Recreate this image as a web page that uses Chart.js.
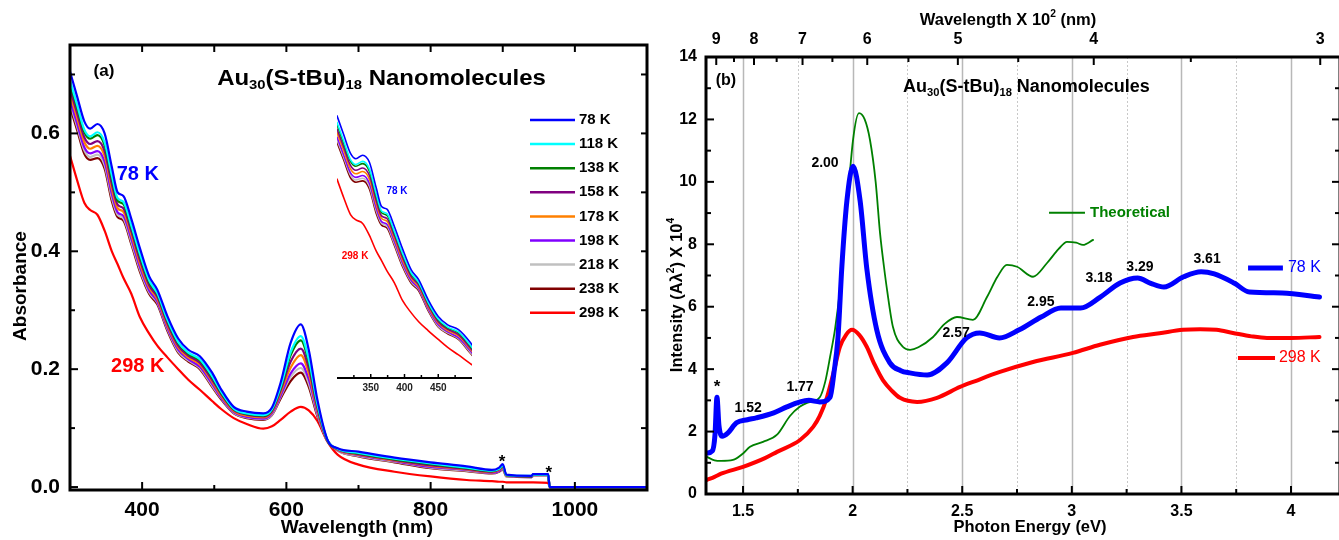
<!DOCTYPE html>
<html><head><meta charset="utf-8">
<script src="https://cdn.jsdelivr.net/npm/chart.js@4.4.1/dist/chart.umd.min.js"></script>
<style>
html,body{margin:0;padding:0;background:#fff;width:1339px;height:540px;overflow:hidden;position:relative}
canvas{position:absolute}
#ca{left:0;top:0}
#cb{left:660px;top:0}
#ci{left:330px;top:100px}
</style></head><body>
<canvas id="ca" width="660" height="540"></canvas>
<canvas id="cb" width="681" height="540"></canvas>
<canvas id="ci" width="160" height="300"></canvas>
<script>
// ================= DATA: panel (a) absorbance vs wavelength =================
const wavelengthA = [300,310,320,328,338,348,358,366,374,385,397,410,421,435,450,464,480,497,510,527,545,568,580,592,606,620,631,643,657,671,700,750,800,850,885,895,900,905,940,942,963,965,1000,1100];
const labelsA = ['78 K','118 K','138 K','158 K','178 K','198 K','218 K','238 K','298 K'];
const abs78K  = [.705,.662,.620,.608,.616,.600,.543,.500,.494,.455,.405,.357,.335,.290,.252,.233,.222,.194,.165,.136,.128,.125,.135,.177,.245,.276,.233,.148,.080,.066,.060,.050,.042,.035,.029,.033,.039,.021,.019,.022,.022,0,0,0];
const abs118K = [.690,.648,.606,.595,.602,.585,.529,.490,.484,.444,.395,.350,.329,.284,.246,.228,.217,.188,.161,.133,.125,.122,.132,.170,.229,.256,.217,.141,.080,.065,.058,.048,.040,.033,.028,.031,.037,.020,.019,.021,.021,0,0,0];
const abs138K = [.685,.643,.602,.591,.597,.580,.524,.486,.480,.441,.392,.347,.327,.282,.244,.226,.215,.186,.159,.132,.124,.121,.131,.168,.224,.249,.212,.139,.079,.065,.057,.047,.039,.032,.027,.031,.036,.020,.018,.021,.021,0,0,0];
const abs158K = [.675,.634,.593,.582,.587,.570,.514,.479,.473,.434,.385,.342,.323,.278,.240,.223,.211,.182,.157,.131,.123,.120,.129,.164,.213,.235,.202,.134,.079,.064,.056,.046,.037,.031,.026,.030,.035,.020,.018,.021,.021,0,0,0];
const abs178K = [.667,.626,.585,.574,.579,.562,.506,.473,.467,.428,.379,.338,.319,.274,.237,.220,.208,.179,.154,.129,.121,.118,.127,.160,.203,.224,.193,.130,.079,.063,.055,.045,.036,.030,.025,.029,.033,.019,.018,.020,.020,0,0,0];
const abs198K = [.657,.616,.576,.566,.570,.552,.497,.466,.460,.421,.373,.333,.315,.270,.233,.217,.204,.175,.151,.127,.119,.116,.125,.155,.193,.210,.183,.126,.078,.063,.054,.044,.034,.029,.024,.027,.032,.019,.017,.020,.020,0,0,0];
const abs218K = [.651,.611,.571,.560,.564,.546,.491,.462,.456,.416,.369,.330,.313,.268,.230,.215,.202,.172,.150,.126,.118,.115,.123,.153,.187,.202,.176,.123,.078,.062,.053,.043,.033,.028,.024,.027,.031,.018,.017,.019,.019,0,0,0];
const abs238K = [.645,.605,.565,.555,.558,.540,.485,.458,.452,.412,.365,.327,.310,.265,.228,.213,.200,.170,.148,.125,.117,.114,.122,.150,.180,.194,.170,.120,.078,.062,.052,.042,.032,.027,.023,.026,.030,.018,.017,.019,.019,0,0,0];
const abs298K = [.562,.520,.482,.470,.462,.435,.400,.378,.355,.328,.288,.260,.240,.220,.200,.182,.165,.146,.132,.117,.107,.099,.103,.114,.128,.136,.130,.112,.077,.055,.038,.026,.018,.012,.010,.009,.009,.008,.008,.008,.007,0,0,0];
const ticksAx = [400,600,800,1000];
const ticksAy = [0,0.2,0.4,0.6];
const ticksInset = [350,400,450];

// ================= DATA: panel (b) intensity vs photon energy =================
const energy78K = [1.335,1.36,1.372,1.381,1.39,1.405,1.43,1.47,1.52,1.56,1.64,1.70,1.76,1.80,1.85,1.897,1.915,1.933,1.951,1.974,2.002,2.034,2.065,2.11,2.17,2.22,2.26,2.34,2.43,2.52,2.58,2.67,2.76,2.86,2.95,3.04,3.13,3.22,3.30,3.36,3.42,3.51,3.59,3.65,3.74,3.81,3.96,4.13];
const intensity78K = [1.31,1.38,1.9,3.1,2.2,1.85,1.95,2.28,2.38,2.44,2.6,2.79,2.95,3.0,2.95,3.1,3.9,5.0,7.3,9.4,10.5,9.4,7.2,5.26,4.2,3.95,3.88,3.81,4.2,5.0,5.16,5.0,5.26,5.67,5.96,5.96,6.31,6.76,6.92,6.75,6.63,6.96,7.12,7.05,6.76,6.47,6.44,6.31];
const energy298K = [1.335,1.37,1.40,1.50,1.60,1.655,1.76,1.82,1.85,1.883,1.915,1.942,1.97,1.997,2.03,2.065,2.10,2.138,2.18,2.216,2.294,2.385,2.49,2.56,2.672,2.823,3.005,3.128,3.279,3.40,3.507,3.585,3.66,3.735,3.82,3.89,4.0,4.13];
const intensity298K = [0.45,0.55,0.65,0.87,1.15,1.35,1.73,2.15,2.5,3.1,3.95,4.71,5.1,5.26,5.1,4.71,4.15,3.65,3.3,3.08,2.95,3.08,3.43,3.62,3.91,4.23,4.52,4.78,5.03,5.15,5.26,5.28,5.26,5.16,5.05,5.0,5.0,5.03];
const energyTheory = [1.335,1.37,1.40,1.454,1.50,1.532,1.591,1.655,1.714,1.76,1.792,1.851,1.875,1.897,1.92,1.942,1.965,2.002,2.029,2.055,2.079,2.105,2.125,2.143,2.157,2.184,2.23,2.262,2.30,2.367,2.42,2.476,2.549,2.613,2.66,2.704,2.75,2.823,2.887,2.94,2.978,3.02,3.051,3.097];
const intensityTheory = [1.19,1.08,1.06,1.09,1.3,1.51,1.67,1.9,2.5,2.8,2.92,3.11,3.6,4.39,5.3,6.54,8.36,11.35,12.2,12.0,11.35,10.0,8.36,7.28,6.54,5.35,4.71,4.62,4.7,5.03,5.45,5.67,5.58,6.31,6.95,7.34,7.28,6.96,7.4,7.85,8.08,8.05,7.98,8.14];
const ticksBx = [1.5,2,2.5,3,3.5,4];
const minorBx = [1.75,2.25,2.75,3.25,3.75];
const ticksBy = [0,2,4,6,8,10,12,14];
const minorBy = [1,3,5,7,9,11,13];
const topWaveTicks = [9,8,7,6,5,4,3];        // wavelength x 10^2 nm
const topWaveMinor = [8.5,7.5,6.5,5.5,4.5,3.5];
const peakLabels = ['2.00','1.52','1.77','2.57','2.95','3.18','3.29','3.61'];
const peakLabelPos = [[1.874,10.61],[1.523,2.76],[1.760,3.43],[2.472,5.16],[2.859,6.15],[3.124,6.92],[3.311,7.28],[3.617,7.53]];

// ================= helpers =================
const FONT = '"Liberation Sans", Arial, Helvetica, sans-serif';
Chart.defaults.font.family = FONT;
const toE = nm100 => 1240 / (nm100 * 100);

function setFont(ctx, size, bold){ ctx.font = (bold ? 'bold ' : '') + size + 'px ' + FONT; }
function richDraw(ctx, parts, x, y, size, bold, color, align){
  const segs = parts.map(([t, m]) => {
    const s = m ? size * 0.62 : size;
    setFont(ctx, s, bold);
    return {t, m, s, w: ctx.measureText(t).width};
  });
  const total = segs.reduce((a, b) => a + b.w, 0);
  let cx = align === 'center' ? x - total / 2 : align === 'right' ? x - total : x;
  ctx.fillStyle = color; ctx.textAlign = 'left'; ctx.textBaseline = 'middle';
  for (const g of segs){
    setFont(ctx, g.s, bold);
    const dy = g.m === 1 ? size * 0.32 : g.m === 2 ? -size * 0.36 : 0;
    ctx.fillText(g.t, cx, y + dy);
    cx += g.w;
  }
}
const T = (t) => [[t, 0]];

const DECO = {
  ca: {
    frame: 3,
    ticks: [
      {side:'bottom', major:[400,600,800,1000], minor:[500,700,900], len:8, mlen:5},
      {side:'top', major:[400,500,600,700,800,900,1000], minor:[], len:7},
      {side:'left', major:[0,0.2,0.4,0.6], minor:[0.1,0.3,0.5,0.7], len:8, mlen:5},
      {side:'right', major:[0.1,0.2,0.3,0.4,0.5,0.6,0.7], minor:[], len:6}
    ],
    legend: {x:530, y:120, dy:24.1, len:45, gap:4, size:15},
    texts: [
      {parts:T('(a)'), x:347, y:0.705, size:17, bold:true},
      {parts:[['Au',0],['30',1],['(S-tBu)',0],['18',1],[' Nanomolecules',0]], x:504, y:0.693, size:22, bold:true, align:'left', sx:1.09},
      {parts:T('78 K'), x:394, y:0.531, size:20, bold:true, color:'#0000ff'},
      {parts:T('298 K'), x:394, y:0.204, size:20, bold:true, color:'#ff0000'},
      {parts:T('*'), x:899, y:0.051, size:17, bold:true, dy:5},
      {parts:T('*'), x:964, y:0.031, size:17, bold:true, dy:5},
      {parts:T('Wavelength (nm)'), px:true, x:357, y:528, size:19, bold:true},
      {parts:T('Absorbance'), px:true, x:21, y:286, size:19, bold:true, rot:-Math.PI/2}
    ]
  },
  ci: {
    baseLine: 2,
    ticks: [{side:'bottom', major:[350,400,450], minor:[325,375,425,475], len:4, mlen:3, w:1.5}],
    texts: [
      {parts:T('78 K'), x:388.9, y:0.535, size:10, bold:true, color:'#0000ff'},
      {parts:T('298 K'), x:326.7, y:0.388, size:10, bold:true, color:'#ff0000'}
    ]
  },
  cb: {
    frame: 3,
    vgrid: ticksBx.map(v => ({v, dotted:false})).concat(minorBx.map(v => ({v, dotted:true}))),
    ticks: [
      {side:'bottom', major:ticksBx, minor:minorBx, len:8, mlen:5},
      {side:'top', major:topWaveTicks.map(toE), minor:topWaveMinor.map(toE), len:8, mlen:5},
      {side:'left', major:ticksBy, minor:minorBy, len:8, mlen:5},
      {side:'right', major:ticksBy, minor:minorBy, len:8, mlen:5}
    ],
    segs: [
      {x1:2.896, x2:3.060, y:9.01, color:'#008000', w:2},
      {x1:3.804, x2:3.963, y:7.24, color:'#0000ff', w:5},
      {x1:3.758, x2:3.927, y:4.36, color:'#ff0000', w:4}
    ],
    texts: [
      {parts:T('(b)'), x:1.422, y:13.24, size:16, bold:true},
      {parts:[['Au',0],['30',1],['(S-tBu)',0],['18',1],[' Nanomolecules',0]], x:2.230, y:13.04, size:18, bold:true, align:'left'},
      ...peakLabels.map((s, i) => ({parts:T(s), x:peakLabelPos[i][0], y:peakLabelPos[i][1], size:14, bold:true})),
      {parts:T('*'), x:1.381, y:3.59, size:17, bold:true, dy:5},
      {parts:T('Theoretical'), x:3.083, y:9.01, size:15, bold:true, color:'#008000', align:'left'},
      {parts:T('78 K'), x:3.986, y:7.24, size:16, bold:false, color:'#0000ff', align:'left'},
      {parts:T('298 K'), x:3.945, y:4.36, size:16, bold:false, color:'#ff0000', align:'left'},
      {parts:[['Wavelength X 10',0],['2',2],[' (nm)',0]], px:true, x:348, y:20, size:16.5, bold:true},
      {parts:T('Photon Energy (eV)'), px:true, x:370, y:527, size:16.5, bold:true},
      {parts:[['Intensity (Aλ',0],['2',2],[') X 10',0],['4',2]], px:true, x:17, y:295, size:16.5, bold:true, rot:-Math.PI/2}
    ]
  }
};

const deco = {
  id: 'deco',
  beforeDatasetsDraw(chart){
    const o = DECO[chart.canvas.id]; if (!o || !o.vgrid) return;
    const {ctx, chartArea:a, scales} = chart;
    ctx.save();
    for (const g of o.vgrid){
      const x = Math.round(scales.x.getPixelForValue(g.v)) + 0.5;
      ctx.beginPath();
      ctx.lineWidth = g.dotted ? 1 : 1.5;
      ctx.strokeStyle = g.dotted ? '#c8c8c8' : '#b8b8b8';
      ctx.setLineDash(g.dotted ? [2,2] : []);
      ctx.moveTo(x, a.top); ctx.lineTo(x, a.bottom); ctx.stroke();
    }
    ctx.restore();
  },
  afterDraw(chart){
    const o = DECO[chart.canvas.id]; if (!o) return;
    const {ctx, chartArea:a, scales} = chart;
    const X = v => scales.x.getPixelForValue(v), Y = v => scales.y.getPixelForValue(v);
    ctx.save();
    ctx.setLineDash([]); ctx.strokeStyle = '#000'; ctx.lineCap = 'butt';
    for (const t of (o.ticks || [])){
      ctx.lineWidth = t.w || 2;
      const horiz = t.side === 'bottom' || t.side === 'top';
      const draw = (v, len) => {
        const p = horiz ? X(v) : Y(v);
        ctx.beginPath();
        if (t.side === 'bottom'){ ctx.moveTo(p, a.bottom); ctx.lineTo(p, a.bottom - len); }
        else if (t.side === 'top'){ ctx.moveTo(p, a.top); ctx.lineTo(p, a.top + len); }
        else if (t.side === 'left'){ ctx.moveTo(a.left, p); ctx.lineTo(a.left + len, p); }
        else { ctx.moveTo(a.right, p); ctx.lineTo(a.right - len, p); }
        ctx.stroke();
      };
      t.major.forEach(v => draw(v, t.len));
      (t.minor || []).forEach(v => draw(v, t.mlen));
    }
    if (o.frame){ ctx.lineWidth = o.frame; ctx.strokeRect(a.left, a.top, a.right - a.left, a.bottom - a.top); }
    if (o.baseLine){ ctx.lineWidth = o.baseLine; ctx.beginPath(); ctx.moveTo(a.left, a.bottom); ctx.lineTo(a.right, a.bottom); ctx.stroke(); }
    for (const s of (o.segs || [])){
      ctx.strokeStyle = s.color; ctx.lineWidth = s.w;
      ctx.beginPath(); ctx.moveTo(X(s.x1), Y(s.y)); ctx.lineTo(X(s.x2), Y(s.y)); ctx.stroke();
    }
    if (o.legend){
      const L = o.legend;
      chart.data.datasets.forEach((d, i) => {
        const y = L.y + i * L.dy;
        ctx.strokeStyle = d.borderColor; ctx.lineWidth = 2.5;
        ctx.beginPath(); ctx.moveTo(L.x, y); ctx.lineTo(L.x + L.len, y); ctx.stroke();
        richDraw(ctx, T(d.label), L.x + L.len + L.gap, y, L.size, true, '#000', 'left');
      });
    }
    for (const t of (o.texts || [])){
      const px = t.px ? t.x : X(t.x), py = (t.px ? t.y : Y(t.y)) + (t.dy || 0);
      ctx.save(); ctx.translate(px, py); if (t.rot) ctx.rotate(t.rot); if (t.sx) ctx.scale(t.sx, 1);
      richDraw(ctx, t.parts, 0, 0, t.size, t.bold, t.color || '#000', t.align || 'center');
      ctx.restore();
    }
    ctx.restore();
  }
};

const lineCommon = {pointRadius:0, pointHoverRadius:0, fill:false, cubicInterpolationMode:'monotone', borderJoinStyle:'round', borderCapStyle:'round'};
const colorsA = ['#0000ff','#00ffff','#008000','#800080','#ff8000','#8000ff','#c0c0c0','#800000','#ff0000'];
const seriesA = [abs78K, abs118K, abs138K, abs158K, abs178K, abs198K, abs218K, abs238K, abs298K];
const toXY = (xs, ys) => xs.map((x, i) => ({x, y: ys[i]}));
function datasetsA(width){
  return seriesA.map((s, i) => Object.assign({label: labelsA[i], data: toXY(wavelengthA, s), borderColor: colorsA[i], borderWidth: width}, lineCommon));
}
const tickFont = (size) => ({family: FONT, size, weight: 'bold'});
const noGrid = {grid:{display:false, drawTicks:false}, border:{display:false}};
const baseOpts = {responsive:false, devicePixelRatio:1, animation:false, events:[],
  plugins:{legend:{display:false}, tooltip:{enabled:false}}};

// ---- panel (a)
new Chart(document.getElementById('ca'), {
  type:'line',
  data:{datasets: datasetsA(2.2)},
  options: Object.assign({}, baseOpts, {
    layout:{padding:{top:45, right:13, left:0, bottom:0}},
    scales:{
      x: Object.assign({type:'linear', min:300, max:1100,
        afterFit(s){ s.height = 50; },
        afterBuildTicks(s){ s.ticks = ticksAx.map(v => ({value:v})); },
        ticks:{font:tickFont(21), color:'#000', padding:8, maxRotation:0, autoSkip:false, callback:v => String(v)}}, noGrid),
      y: Object.assign({type:'linear', min:-0.005, max:0.75,
        afterFit(s){ s.width = 70; },
        afterBuildTicks(s){ s.ticks = ticksAy.map(v => ({value:v})); },
        ticks:{font:tickFont(21), color:'#000', padding:10, callback:v => v.toFixed(1)}}, noGrid)
    }
  }),
  plugins:[deco]
});

// ---- inset
new Chart(document.getElementById('ci'), {
  type:'line',
  data:{datasets: datasetsA(1.6)},
  options: Object.assign({}, baseOpts, {
    layout:{padding:{top:10, right:18, left:7, bottom:0}},
    scales:{
      x: Object.assign({type:'linear', min:300, max:500,
        afterFit(s){ s.height = 22; },
        afterBuildTicks(s){ s.ticks = ticksInset.map(v => ({value:v})); },
        ticks:{font:tickFont(10), color:'#222', padding:4, maxRotation:0, autoSkip:false, callback:v => String(v)}}, noGrid),
      y: {type:'linear', min:0.113, max:0.718, display:false}
    }
  }),
  plugins:[deco]
});

// ---- panel (b)
new Chart(document.getElementById('cb'), {
  type:'line',
  data:{datasets:[
    Object.assign({label:'78 K', data: toXY(energy78K, intensity78K), borderColor:'#0000ff', borderWidth:5}, lineCommon),
    Object.assign({label:'Theoretical', data: toXY(energyTheory, intensityTheory), borderColor:'#008000', borderWidth:1.8}, lineCommon),
    Object.assign({label:'298 K', data: toXY(energy298K, intensity298K), borderColor:'#ff0000', borderWidth:4}, lineCommon)
  ]},
  options: Object.assign({}, baseOpts, {
    layout:{padding:{top:0, right:1, left:0, bottom:0}},
    scales:{
      x: Object.assign({type:'linear', min:1.331, max:4.2235,
        afterFit(s){ s.height = 46; },
        afterBuildTicks(s){ s.ticks = ticksBx.map(v => ({value:v})); },
        ticks:{font:tickFont(16), color:'#000', padding:8, maxRotation:0, autoSkip:false, callback:v => String(v)}}, noGrid),
      x2: Object.assign({type:'linear', axis:'x', position:'top', min:1.331, max:4.2235,
        afterFit(s){ s.height = 57; },
        afterBuildTicks(s){ s.ticks = topWaveTicks.map(w => ({value: toE(w)})); },
        ticks:{font:tickFont(16), color:'#000', padding:8, maxRotation:0, autoSkip:false, callback:v => String(Math.round(1240 / v / 100))}}, noGrid),
      y: Object.assign({type:'linear', min:0, max:14,
        afterFit(s){ s.width = 46; },
        afterBuildTicks(s){ s.ticks = ticksBy.map(v => ({value:v})); },
        ticks:{font:tickFont(16), color:'#000', padding:9, callback:v => String(v)}}, noGrid)
    }
  }),
  plugins:[deco]
});
</script>
</body></html>
